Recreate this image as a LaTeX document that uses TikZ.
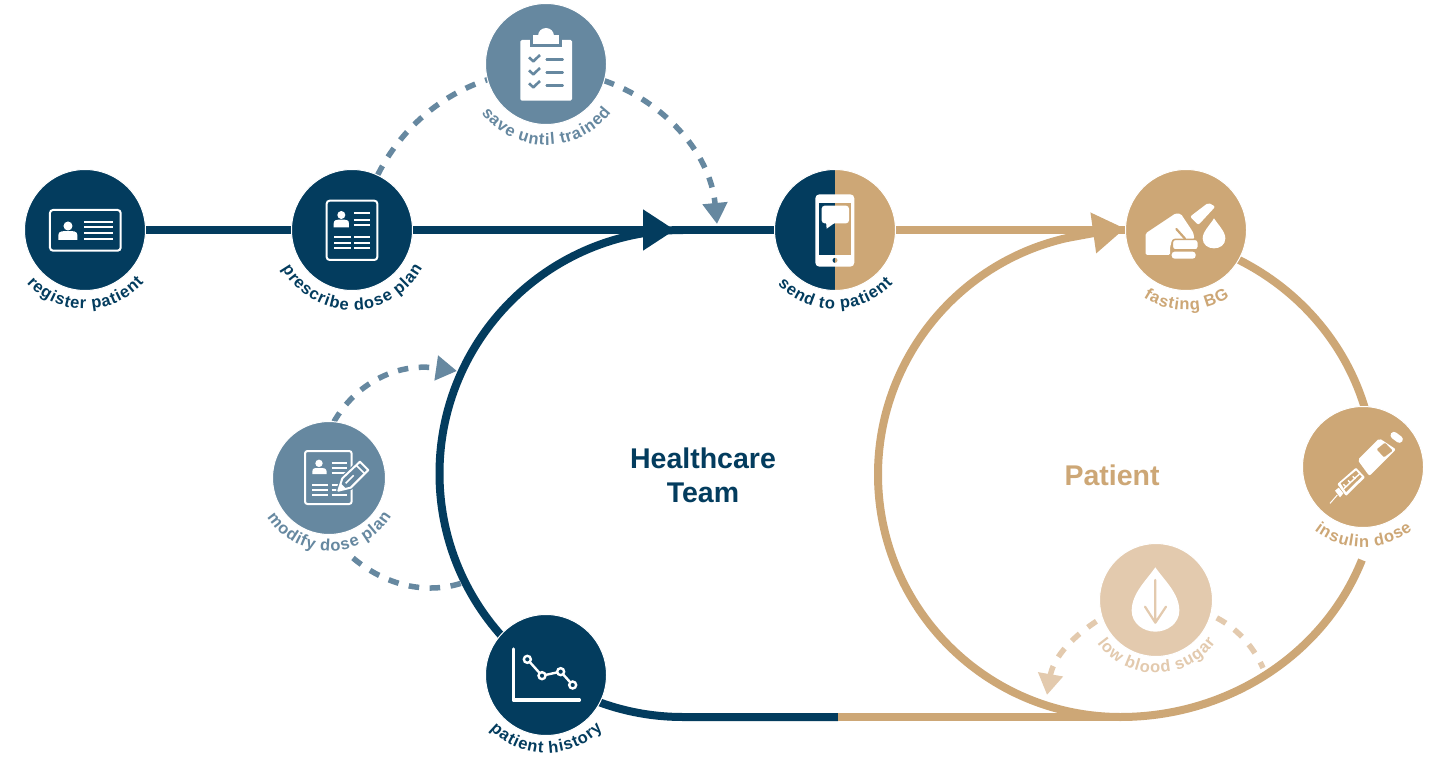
\documentclass[tikz,border=0pt]{standalone}
\usepackage{fontspec}
\setmainfont{Liberation Sans}
\usetikzlibrary{arrows.meta,decorations.text,backgrounds}
\definecolor{navy}{RGB}{3,60,94}
\definecolor{tanc}{RGB}{205,167,118}
\definecolor{slate}{RGB}{102,136,160}
\definecolor{ltan}{RGB}{227,202,174}
\newcommand\labelfont{\bfseries\fontsize{16.5}{16.5}\selectfont}
\newcommand\spacedchar[1]{#1\kern0.9pt}
\newcommand\gap{\hspace*{0.25em}}
\newcommand\arclabel[4]{%
  \path[decorate,decoration={text along path,text align=center,text={|\labelfont\color{#3}\spacedchar|#4}}]
    (#1.center) ++(172:#2) arc[start angle=172,end angle=8,radius=#2];}
\newcommand\person[7]{% cx head-y r left right top bottom
  \fill[white] (#1,#2) circle[radius=#3pt];
  \fill[white] (#4,#7) -- (#4,#6+12) .. controls (#4,#6) and (#1-15,#6) .. (#1,#6) .. controls (#1+15,#6) and (#5,#6) .. (#5,#6+12) -- (#5,#7) -- cycle;}
\tikzset{
  stage/.style={circle,minimum size=121pt,inner sep=0pt,outer sep=0pt,draw=white,line width=1pt,fill=#1},
  substage/.style={circle,minimum size=113pt,inner sep=0pt,outer sep=0pt,draw=white,line width=1pt,fill=#1},
  track/.style={line width=8pt,color=#1},
  dashlink/.style={line width=5.5pt,color=#1,dash pattern=on 10.5pt off 10.5pt},
  zoomat/.style 2 args={shift={(#1,#2)},x=0.33333pt,y=-0.33333pt},
  icon/.style={white,line width=2pt},
  bigtip/.style={-{Triangle[length=32pt,width=39pt]}},
  smalltip/.style={-{Triangle[length=21pt,width=24pt]}},
  title/.style={font=\bfseries\fontsize{28.5}{34}\selectfont,align=center,text=#1}
}
\begin{document}
\begin{tikzpicture}[x=1pt,y=-1pt]
\useasboundingbox (0,0) rectangle (1430,757);
% nodes
\node[stage=navy] (register) at (85,230) {};
\node[stage=navy] (prescribe) at (352,230) {};
\node[stage=slate] (save) at (546,64) {};
\node[stage=tanc,path picture={\fill[navy] (path picture bounding box.north west) rectangle (path picture bounding box.south);}] (send) at (835,230) {};
\node[stage=tanc] (fasting) at (1186,230) {};
\node[stage=tanc] (insulin) at (1363,467) {};
\node[substage=ltan] (low) at (1156,600) {};
\node[substage=slate] (modify) at (329,478) {};
\node[stage=navy] (history) at (546,675) {};
\node[title=navy] (healthcare) at (703,475) {Healthcare\\Team};
\node[title=tanc] (patient) at (1112,475) {Patient};
% free ends
\coordinate (navtip) at (675,230);
\coordinate (navc) at (683,473.5);
\coordinate (ringc) at (1120.5,474.5);
\coordinate (meet) at (838,717);
\coordinate (tantip) at (1125,228.5);
\coordinate (savetip) at (717,224);
\coordinate (modtip) at (457,371);
\coordinate (modstart) at (353,558);
\coordinate (modend) at (462,583);
\coordinate (lowtip) at (1047,695);
\coordinate (lowend) at (1263,668);
% connectors
\begin{pgfonlayer}{background}
\fill[white] (0,0) rectangle (1430,757);
\draw[track=navy] (register.center) -- (prescribe.center);
\draw[track=navy] (navtip) -- (send.center);
\draw[track=navy] (navc) ++(-90:243.5) arc[start angle=-90,end angle=-270,radius=243.5] -- (meet);
\draw[track=navy,bigtip] (prescribe.center) -- (navtip);
\draw[track=tanc] (meet) -- ++(283,0);
\draw[track=tanc,bigtip] (ringc) ++(-270:242.5) arc[start angle=-270,end angle=-103,radius=242.5] .. controls (1080,235.5) and (1100,232) .. (tantip);
\draw[track=tanc] (ringc) ++(-75:254 and 242.5) arc[start angle=-75,end angle=0,x radius=254,y radius=242.5];
\draw[track=tanc] (ringc) ++(90:258 and 242.5) arc[start angle=90,end angle=20.65,x radius=258,y radius=242.5];
\draw[track=tanc] (send.center) -- (fasting.center);
\draw[dashlink=slate] (prescribe.65) .. controls (400,130) and (440,95) .. (save.195);
\draw[dashlink=slate,smalltip] (save.344) .. controls (660,100) and (710,150) .. (savetip);
\draw[dashlink=slate,smalltip] (modify.85) .. controls (355,385) and (395,362) .. (modtip);
\draw[dashlink=slate] (modstart) .. controls (385,585) and (425,595) .. (modend);
\draw[dashlink=ltan,shorten <=7pt] (low.-15) .. controls (1240,630) and (1255,650) .. (lowend);
\draw[dashlink=ltan,smalltip,shorten <=7pt] (low.198) .. controls (1068,640) and (1053,660) .. (lowtip);
\end{pgfonlayer}
% labels
\arclabel{register}{79}{navy}{register{\gap}patient}
\arclabel{prescribe}{80}{navy}{prescribe{\gap}dose{\gap}plan}
\arclabel{save}{81}{slate}{save{\gap}until{\gap}trained}
\arclabel{send}{79}{navy}{send{\gap}to{\gap}patient}
\arclabel{fasting}{80}{tanc}{fasting{\gap}BG}
\arclabel{insulin}{80}{tanc}{insulin{\gap}dose}
\arclabel{low}{73}{ltan}{low{\gap}blood{\gap}sugar}
\arclabel{modify}{73}{slate}{modify{\gap}dose{\gap}plan}
\arclabel{history}{78}{navy}{patient{\gap}history}
% icon: register
\begin{scope}[zoomat={0}{150}]
\draw[icon,rounded corners=3pt] (150,180) rectangle (362,302);
\person{204}{228}{4.5}{175}{232}{243}{270}
\foreach \y in {215,232,250,266} \draw[icon] (252,\y) -- (340,\y);
\end{scope}
% icon: prescribe
\begin{scope}[zoomat={0}{150}]
\draw[icon,rounded corners=3pt] (980,152) rectangle (1132,330);
\person{1024}{195}{4}{1001}{1047}{209}{232}
\foreach \y in {190,210,226} \draw[icon] (1062,\y) -- (1110,\y);
\foreach \y in {262,279,295} {\draw[icon] (1003,\y) -- (1052,\y); \draw[icon] (1062,\y) -- (1110,\y);}
\end{scope}
% icon: save
\begin{scope}[zoomat={360}{0}]
\fill[white,rounded corners=1.5pt] (481,120) rectangle (636,302);
\fill[slate] (511,118) rectangle (606,140);
\fill[white] (558,108) circle[radius=8pt];
\fill[white] (520,104) rectangle (597,131);
\foreach \d in {0,39,78} {
  \draw[slate,line width=2.6pt,line join=round] (507,172+\d) -- (520,184+\d) -- (540,165+\d);
  \draw[slate,line width=2.6pt,line cap=round] (560,178+\d) -- (608,178+\d);}
\end{scope}
% icon: send
\begin{scope}[zoomat={750}{160}]
\fill[white,rounded corners=4pt] (196,103) rectangle (313,320);
\fill[navy] (207,128) rectangle (255,284);
\fill[tanc] (255,128) rectangle (302,284);
\fill[white,rounded corners=3pt] (215,137) rectangle (297,190);
\fill[white] (228,185) -- (230,206) -- (255,188) -- cycle;
\begin{scope}
\clip (255,301) circle[radius=2.5pt];
\fill[navy] (240,290) rectangle (255,312);
\fill[tanc] (255,290) rectangle (270,312);
\end{scope}
\end{scope}
% icon: fasting
\begin{scope}[zoomat={1135}{190}]
\fill[white,rounded corners=1.5pt] (32,130) -- (122,70) -- (138,72) -- (175,128) -- (178,148) -- (112,148) -- (105,172) -- (105,195) -- (32,195) -- cycle;
\draw[tanc,line width=2.2pt,line cap=round] (124,117) -- (150,146);
\draw[draw=tanc,fill=white,line width=1.5pt,rounded corners=3pt] (112,148) rectangle (190,180);
\fill[white,rounded corners=3pt] (110,185) rectangle (182,206);
\fill[white,rounded corners=2pt] (165,80) -- (220,38) -- (241,50) -- (190,105) -- cycle;
\fill[white] (237,85) .. controls (225,105) and (203,125) .. (203,145) .. controls (203,165) and (220,175) .. (237,175) .. controls (255,175) and (271,165) .. (271,145) .. controls (271,125) and (250,105) .. (237,85) -- cycle;
\end{scope}
% icon: insulin
\begin{scope}[zoomat={1320}{420}]
\draw[white,line width=7pt,line cap=round] (222,46) -- (238,58);
\fill[white,rounded corners=2pt] (113,120) -- (178,55) -- (228,88) -- (148,168) -- cycle;
\fill[tanc,rounded corners=1pt] (170,88) -- (195,68) -- (218,92) -- (192,112) -- cycle;
\fill[white,rounded corners=1pt] (52,192) -- (108,143) -- (135,172) -- (78,228) -- cycle;
\fill[tanc] (62,190) -- (108,152) -- (125,170) -- (78,216) -- cycle;
\draw[white,line width=1.4pt] (72,206) -- (118,162);
\foreach \a/\b in {70/193,84/181,98/169} \draw[white,line width=1.4pt] (\a,\b) -- (\a+8,\b+8);
\fill[white] (45,212) -- (56,203) -- (70,220) -- (60,232) -- cycle;
\draw[white,line width=1pt] (52,225) -- (30,250);
\end{scope}
% icon: low
\begin{scope}[zoomat={1020}{400}]
\fill[white] (406,502) .. controls (380,540) and (335,580) .. (335,632) .. controls (335,670) and (370,695) .. (406,695) .. controls (442,695) and (478,670) .. (478,632) .. controls (478,580) and (432,540) .. (406,502) -- cycle;
\draw[ltan,line width=2.2pt,line cap=round,line join=round] (406,540) -- (406,668) (375,620) -- (406,668) -- (438,620);
\end{scope}
% icon: modify
\begin{scope}[zoomat={295}{440}]
\draw[icon,rounded corners=2.5pt] (30,33) rectangle (170,192);
\person{72}{70}{3.7}{52}{95}{84}{102}
\foreach \y in {68,85,100} \draw[icon] (110,\y) -- (155,\y);
\foreach \y in {135,150,165} {\draw[icon] (52,\y) -- (100,\y); \draw[icon] (110,\y) -- (155,\y);}
\draw[slate,line width=4.5pt,line join=round] (130,152) -- (142,115) -- (195,65) -- (220,90) -- (167,143) -- cycle;
\draw[white,fill=slate,line width=2pt,line join=round] (130,152) -- (142,115) -- (195,65) -- (220,90) -- (167,143) -- cycle;
\draw[white,line width=1.5pt] (184,76) -- (209,101) (152,130) -- (176,106);
\fill[white] (130,152) -- (137,130) -- (152,145) -- cycle;
\end{scope}
% icon: history
\begin{scope}[zoomat={470}{620}]
\draw[white,line width=3.5pt,line join=round,line cap=round] (130,87) -- (130,240) -- (328,240);
\draw[white,line width=2.4pt] (172,118) -- (216,167) -- (272,155) -- (308,195);
\foreach \p in {(172,118),(216,167),(272,155),(308,195)} \draw[white,fill=navy,line width=2.4pt] \p circle[radius=3.5pt];
\end{scope}
\end{tikzpicture}
\end{document}
